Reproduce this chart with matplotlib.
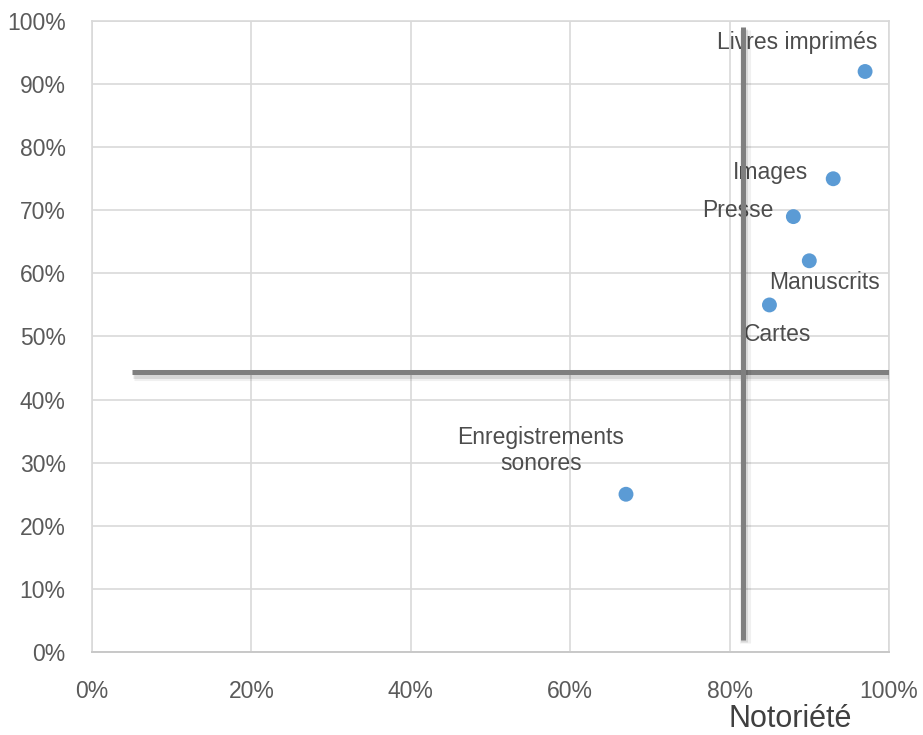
import matplotlib
matplotlib.use("Agg")
import matplotlib.pyplot as plt
import matplotlib.patheffects as pe
from matplotlib.ticker import FuncFormatter, MultipleLocator

# Data (fractions)
labels = ["Livres imprimés", "Images", "Presse", "Manuscrits", "Cartes", "Enregistrements\nsonores"]
notoriete = [0.97, 0.93, 0.88, 0.90, 0.85, 0.67]
usage = [0.92, 0.75, 0.69, 0.62, 0.55, 0.25]
# label offsets in pixels (style)
label_offsets = [(-68, 29), (-63, 6), (-56, 6), (15, -22), (8, -30), (-85, 44)]

# Reference lines
h_line_y = 0.443
h_line_x = (0.05, 1.0)
v_line_x = 0.8164
v_line_y = (0.019, 0.990)

plt.rcParams['font.family'] = ['Liberation Sans', 'DejaVu Sans']

fig = plt.figure(figsize=(9.23, 7.35), dpi=100)
ax = fig.add_axes([92/923, 83/735, 797/923, 631/735])

ax.set_xlim(0, 1)
ax.set_ylim(0, 1)
ax.xaxis.set_major_locator(MultipleLocator(0.2))
ax.yaxis.set_major_locator(MultipleLocator(0.1))
fmt = FuncFormatter(lambda v, p: f"{round(v*100):d}%")
ax.xaxis.set_major_formatter(fmt)
ax.yaxis.set_major_formatter(fmt)
ax.tick_params(length=0, labelsize=16.5, labelcolor="#5a5a5a")
ax.tick_params(axis='x', pad=20)
ax.tick_params(axis='y', pad=19)

ax.grid(True, color="#d9d9d9", linewidth=1.2)
ax.set_axisbelow(True)
for s in ["left", "top", "right"]:
    ax.spines[s].set_color("#d9d9d9")
    ax.spines[s].set_linewidth(1.2)
ax.spines["bottom"].set_color("#c8c8c8")
ax.spines["bottom"].set_linewidth(1.4)

shadow = [
    pe.SimpleLineShadow(offset=(1.5, -2.0), shadow_color="#000000", alpha=0.06, linewidth=8),
    pe.SimpleLineShadow(offset=(1.0, -1.5), shadow_color="#000000", alpha=0.10, linewidth=5),
    pe.Normal(),
]
ax.plot(h_line_x, [h_line_y, h_line_y], color="#7f7f7f", linewidth=3.6,
        solid_capstyle="butt", path_effects=shadow, zorder=3)
ax.plot([v_line_x, v_line_x], v_line_y, color="#7f7f7f", linewidth=3.6,
        solid_capstyle="butt", path_effects=shadow, zorder=3)

ax.scatter(notoriete, usage, s=115, color="#5b9bd5", edgecolor="none", zorder=4)

for lab, x, y, (dx, dy) in zip(labels, notoriete, usage, label_offsets):
    ax.annotate(lab, (x, y), xytext=(dx, dy), textcoords="offset pixels",
                ha="center", va="center", fontsize=16.5, color="#4d4d4d",
                linespacing=1.15, zorder=2)

fig.text(790/923, 1 - 727/735, "Notoriété", fontsize=22, color="#404040",
         ha="center", va="baseline")

fig.savefig("out.png", dpi=100)
